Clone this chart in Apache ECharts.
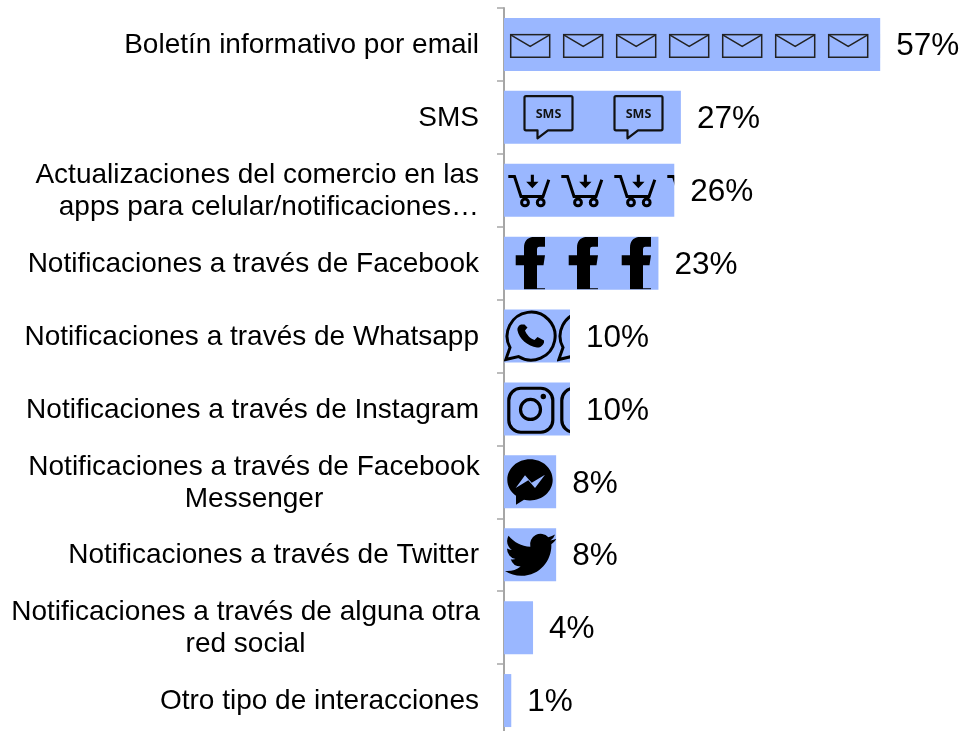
<!DOCTYPE html>
<html><head><meta charset="utf-8">
<style>html,body{margin:0;padding:0;background:#fff;overflow:hidden}#c{width:963px;height:731px}</style>
<script src="https://cdn.jsdelivr.net/npm/echarts@6/dist/echarts.min.js"></script>
</head><body><div id="c"></div>
<script>
const categories = [
  "Boletín informativo por email",
  "SMS",
  "Actualizaciones del comercio en las\napps para celular/notificaciones…",
  "Notificaciones a través de Facebook",
  "Notificaciones a través de Whatsapp",
  "Notificaciones a través de Instagram",
  "Notificaciones a través de Facebook\nMessenger",
  "Notificaciones a través de Twitter",
  "Notificaciones a través de alguna otra\nred social",
  "Otro tipo de interacciones"
];
const values = [57, 26.8, 25.8, 23.4, 10, 10, 7.9, 7.9, 4.4, 1.1];
const iconKeys = ["mail","sms","cart","fb","wa","ig","ms","tw",null,null];

const BAR = "#9AB7FF", INK = "#000";
const svgIcons = {
  mail: [53, `<rect x="6.7" y="16.7" width="39" height="22.6" fill="none" stroke="#222" stroke-width="1.5"/><path d="M6.7 17L26.2 28.4L45.7 17" fill="none" stroke="#222" stroke-width="1.5"/>`],
  sms: [90, `<path d="M22 5.2H67a1.5 1.5 0 0 1 1.5 1.5V38a1.5 1.5 0 0 1-1.5 1.5H44L33.5 47.5V39.5H22a1.5 1.5 0 0 1-1.5-1.5V6.7a1.5 1.5 0 0 1 1.5-1.5Z" fill="none" stroke="#111" stroke-width="2.2" stroke-linejoin="round"/><text x="44.5" y="27.3" text-anchor="middle" font-family="Open Sans" font-weight="700" font-size="12.5" fill="#111">SMS</text>`],
  cart: [53, `<path d="M4.3 12.7H10.5L17 32.7H39L44.8 16" fill="none" stroke="${INK}" stroke-width="3"/><circle cx="21" cy="38.7" r="3.4" fill="none" stroke="${INK}" stroke-width="3"/><circle cx="36.7" cy="38.7" r="3.4" fill="none" stroke="${INK}" stroke-width="3"/><path d="M26.8 11H29.9V18H34.5L28.35 24.5L22.2 18H26.8Z" fill="${INK}"/>`],
  fb: [53, `<path d="M20 52.5V28.7H11.7V18.7H20V11C20 3 25 0 32 0H41V10H35.5C33.5 10 33 11 33 13V18.7H41L39.5 28.7H33V51.5H41V52.5Z" fill="${INK}"/>`],
  wa: [53, `<path d="M6 38L1.8 50L14.5 47A24 24 0 1 0 6 38Z" fill="none" stroke="${INK}" stroke-width="3"/><path d="M17 15C14 16 13 19 13.5 21C15 29 24 37 33 38C36 38.5 39 36 40 33L40 31L33.5 27.5L30.5 30.5C26 29 22.5 25 21 21L23.5 18L20.5 15Z" fill="${INK}"/>`],
  ig: [53, `<rect x="4.8" y="5.8" width="44" height="44" rx="12" fill="none" stroke="${INK}" stroke-width="3.2"/><circle cx="26.5" cy="27" r="10" fill="none" stroke="${INK}" stroke-width="3.2"/><circle cx="39.3" cy="14" r="2.7" fill="${INK}"/>`],
  ms: [53, `<path d="M26 4C13.5 4 3.3 13 3.3 24.5C3.3 31 6.5 36.5 12 40.5V49.3L20 44.5C22 45 24 45.2 26 45.2C38.5 45.2 48.7 36 48.7 24.5C48.7 13 38.5 4 26 4Z" fill="${INK}"/><path d="M11.7 32.7L21 20L27.7 27.3L41 19.3L31 32.7L24.3 25Z" fill="${BAR}"/>`],
  tw: [53, `<path transform="translate(1,0.7) scale(2.15)" d="M23.953 4.57a10 10 0 01-2.825.775 4.958 4.958 0 002.163-2.723c-.951.555-2.005.959-3.127 1.184a4.92 4.92 0 00-8.384 4.482C7.69 8.095 4.067 6.13 1.64 3.162a4.822 4.822 0 00-.666 2.475c0 1.71.87 3.213 2.188 4.096a4.904 4.904 0 01-2.228-.616v.06a4.923 4.923 0 003.946 4.827 4.996 4.996 0 01-2.212.085 4.936 4.936 0 004.604 3.417 9.867 9.867 0 01-6.102 2.105c-.39 0-.779-.023-1.17-.067a13.995 13.995 0 007.557 2.209c9.053 0 13.998-7.496 13.998-13.985 0-.21 0-.42-.015-.63A9.935 9.935 0 0024 4.59z" fill="${INK}"/>`]
};
function iconImage(key){
  const [w, body] = svgIcons[key];
  const svg = `<svg xmlns="http://www.w3.org/2000/svg" width="${w}" height="53" viewBox="0 0 ${w} 53">${body}</svg>`;
  return "image://data:image/svg+xml;charset=utf-8," + encodeURIComponent(svg);
}
const FONT = "Liberation Sans";
const FS = 28;
const GRID_W = 396, AXIS_MAX = 60, PX_PER_UNIT = GRID_W / AXIS_MAX;
function iconItem(v, key){
  if(!key) return {value:null};
  const cell = svgIcons[key][0];
  const times = Math.ceil(v * PX_PER_UNIT / cell);
  return {
    value:v, symbol:iconImage(key), symbolSize:[cell,53],
    symbolRepeat:times, symbolBoundingData: times * cell / PX_PER_UNIT
  };
}
const chart = echarts.init(document.getElementById("c"), null, {renderer:"canvas"});
chart.setOption({
  animation:false,
  backgroundColor:"#fff",
  grid:{left:504, top:8, width:GRID_W, height:729, outerBoundsMode:"none"},
  xAxis:{type:"value", min:0, max:AXIS_MAX, show:false},
  yAxis:{
    type:"category", inverse:true, data:categories,
    axisLine:{show:true, lineStyle:{color:"#A6A6A6", width:2}},
    axisTick:{show:true, length:7, lineStyle:{color:"#A6A6A6", width:1.5}},
    axisLabel:{
      margin:25, color:"#000", fontFamily:FONT, fontSize:FS, lineHeight:32, align:"right", padding:[2,0,0,0],
      formatter:(v)=>{
        if(!v.includes("\n")) return v;
        const s = v.includes("alguna") ? "b" : v.includes("Messenger") ? "a" : "c";
        return v.split("\n").map(l=>`{${s}|${l}}`).join("\n");
      },
      rich:{
        a:{width:450, align:"center", fontFamily:FONT, fontSize:FS, lineHeight:32, color:"#000"},
        b:{width:467, align:"center", fontFamily:FONT, fontSize:FS, lineHeight:32, color:"#000"},
        c:{width:442, align:"right", fontFamily:FONT, fontSize:FS, lineHeight:32, color:"#000"}
      }
    }
  },
  series:[
    {type:"bar", data:values, barWidth:53, itemStyle:{color:BAR}, z:2,
     label:{show:true, position:"right", distance:16, offset:[0,2], color:"#000", fontFamily:FONT, fontSize:31.5,
            formatter:(p)=>Math.round(p.value)+"%"}},
    {type:"pictorialBar", z:3, symbolPosition:"start", symbolMargin:0, symbolClip:true,
     data:values.map((v,i)=> iconItem(v, iconKeys[i]))}
  ]
});
</script></body></html>
